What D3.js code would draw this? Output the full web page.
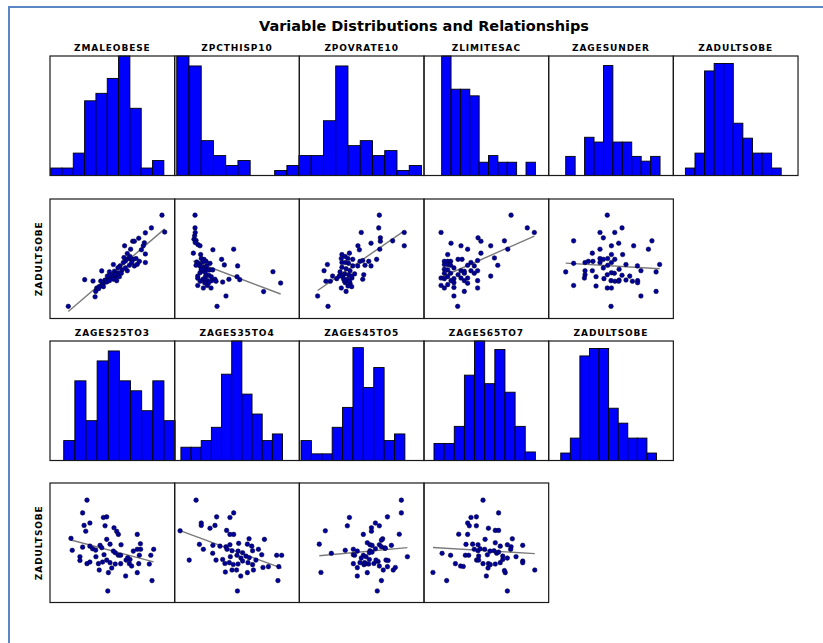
<!DOCTYPE html>
<html>
<head>
<meta charset="utf-8">
<script src="https://cdn.jsdelivr.net/npm/d3@7"></script>
<style>
    body { margin: 0; background: #fff; }
    #chart-area { width: 823px; height: 643px; }
    .main-title { font-family: "DejaVu Sans", sans-serif; font-weight: bold; font-size: 14.5px; }
    .panel-title { font-family: "DejaVu Sans", sans-serif; font-weight: bold; font-size: 9px; letter-spacing: 0.9px; }
</style>
</head>
<body>
<div id="chart-area"></div>
<script>

// variables shown as histograms (row 1 and row 3)
const histRowTop = ["ZMALEOBESE", "ZPCTHISP10", "ZPOVRATE10", "ZLIMITESAC", "ZAGESUNDER", "ZADULTSOBE"];
const histRowBottom = ["ZAGES25TO3", "ZAGES35TO4", "ZAGES45TO5", "ZAGES65TO7", "ZADULTSOBE"];

// counts per bin
const histCounts = {
    ZMALEOBESE: [1, 1, 3, 10, 11, 13, 16, 9, 1, 2, 0],
    ZPCTHISP10: [24, 22, 7, 4, 2, 3, 0, 0, 1, 2],
    ZPOVRATE10: [4, 4, 11, 22, 6, 7, 4, 5, 1, 2],
    ZLIMITESAC: [18, 13, 13, 12, 2, 3, 2, 2, 0, 2],
    ZAGESUNDER: [4, 0, 8, 7, 23, 7, 7, 4, 3, 4],
    ZADULTSOBE: [1, 3, 14, 15, 15, 7, 5, 3, 3, 1],
    ZAGES25TO3: [2, 8, 4, 10, 11, 8, 7, 5, 8, 4],
    ZAGES35TO4: [2, 2, 3, 5, 13, 18, 10, 7, 3, 4],
    ZAGES45TO5: [3, 1, 1, 5, 8, 17, 11, 14, 3, 4],
    ZAGES65TO7: [2, 2, 4, 10, 14, 9, 13, 8, 4, 1]
};

// first bin edge (z units)
const binStart = {
    ZMALEOBESE: -2.97, ZPCTHISP10: -2.90, ZPOVRATE10: -3.02, ZLIMITESAC: -2.15, ZAGESUNDER: -2.18,
    ZADULTSOBE: -2.42, ZAGES25TO3: -2.34, ZAGES35TO4: -2.70, ZAGES45TO5: -2.92, ZAGES65TO7: -2.52
};

// bin width (z units)
const binStep = {
    ZMALEOBESE: 0.545, ZPCTHISP10: 0.589, ZPOVRATE10: 0.590, ZLIMITESAC: 0.451, ZAGESUNDER: 0.454,
    ZADULTSOBE: 0.461, ZAGES25TO3: 0.536, ZAGES35TO4: 0.489, ZAGES45TO5: 0.500, ZAGES65TO7: 0.488
};

// top of the count axis
const histMax = {
    ZMALEOBESE: 16, ZPCTHISP10: 24, ZPOVRATE10: 24, ZLIMITESAC: 18, ZAGESUNDER: 25,
    ZADULTSOBE: 16, ZAGES25TO3: 12, ZAGES35TO4: 18, ZAGES45TO5: 18, ZAGES65TO7: 14
};

// scatter rows: x variable vs ZADULTSOBE
const scatterRowTop = ["ZMALEOBESE", "ZPCTHISP10", "ZPOVRATE10", "ZLIMITESAC", "ZAGESUNDER"];
const scatterRowBottom = ["ZAGES25TO3", "ZAGES35TO4", "ZAGES45TO5", "ZAGES65TO7"];
const yVariable = "ZADULTSOBE";

const ptsMaleObese = [[-2.12,-2.39],[2.39,2.19],[2.52,1.34],[1.88,1.55],[1.59,1.30],[1.27,1.03],[0.98,0.88],[1.06,0.88],[0.59,0.65],[1.54,0.80],[1.49,0.65],[0.88,0.48],[1.59,0.24],[0.72,0.26],[1.40,0.45],[0.77,0.01],[0.91,-0.03],[1.01,-0.03],[1.14,0.01],[1.30,-0.13],[1.59,-0.19],[0.63,-0.11],[0.53,-0.19],[0.05,-0.29],[0.37,-0.36],[0.82,-0.33],[1.06,-0.36],[0.47,-0.56],[0.72,-0.60],[-0.51,-0.61],[-0.14,-0.66],[0.10,-0.63],[0.29,-0.70],[0.21,-0.83],[0.34,-0.90],[0.14,-0.97],[-0.05,-0.90],[-0.19,-1.03],[-0.35,-1.07],[-0.56,-1.12],[-1.33,-1.05],[-0.93,-1.12],[0.05,-1.03],[0.21,-1.10],[-0.43,-1.23],[-0.51,-1.34],[-0.63,-1.40],[-0.75,-1.47],[-0.80,-1.64],[-0.83,-1.91],[-0.24,-0.87],[-0.03,-0.80],[-0.27,-1.17],[0.43,-0.73],[0.63,-0.46],[0.93,-0.19],[1.20,-0.28],[-0.66,-1.50],[-0.43,-1.40],[0.27,-0.45],[-0.14,-1.10],[0.13,-0.78],[0.56,0.06],[0.85,0.11]];

const ptsPctHisp = [[-2.02,2.19],[-2.02,1.55],[-2.01,1.32],[-2.04,1.15],[-2.07,0.98],[-1.97,0.92],[-2.01,0.81],[-1.88,0.71],[-1.78,0.65],[-2.10,0.28],[-1.75,0.21],[-1.16,0.45],[-0.16,0.48],[-0.74,-0.03],[-1.72,0.01],[-1.59,-0.03],[-1.94,-0.16],[-1.85,-0.23],[-1.65,-0.16],[-1.49,-0.13],[-1.78,-0.36],[-1.62,-0.43],[-1.30,-0.23],[-1.97,-0.33],[-0.61,-0.31],[0.03,-0.36],[-1.49,-0.53],[-1.33,-0.56],[-1.17,-0.56],[-1.69,-0.63],[-1.52,-0.70],[-1.78,-0.70],[-1.89,-0.87],[-1.89,-0.98],[-1.52,-0.90],[-1.36,-0.83],[-1.24,-0.90],[-1.64,-1.03],[-1.43,-1.10],[-1.22,-1.10],[-1.06,-1.03],[-0.69,-1.17],[-0.39,-1.03],[0.00,-0.90],[0.13,-1.05],[-1.89,-1.34],[-1.43,-1.34],[-1.62,-1.47],[-1.25,-1.47],[-0.53,-1.87],[-0.96,-2.39],[1.28,-1.65],[1.73,-0.65],[2.10,-1.22],[-1.72,-0.53],[-1.46,-0.36],[-1.01,-1.13],[-1.56,-1.20],[-1.77,-1.13],[-1.36,-1.20]];

const ptsPovRate = [[0.85,2.19],[0.82,1.55],[-0.02,1.32],[2.05,1.32],[0.90,1.05],[0.90,0.88],[0.45,0.78],[1.49,0.90],[2.05,0.65],[-0.18,0.65],[-0.11,0.45],[0.87,0.48],[-0.95,0.21],[-0.59,0.28],[-0.79,0.11],[-0.98,0.01],[-0.66,0.01],[-0.43,-0.03],[-0.08,-0.13],[0.05,-0.09],[0.34,-0.13],[0.72,-0.03],[-1.65,-0.29],[-0.95,-0.19],[-0.79,-0.19],[-0.63,-0.23],[-0.19,-0.36],[0.16,-0.33],[0.45,-0.36],[-1.81,-0.60],[-0.95,-0.43],[-0.75,-0.50],[-0.56,-0.60],[-1.04,-0.66],[-0.82,-0.76],[-0.91,-0.87],[-0.63,-0.80],[-0.34,-0.76],[0.10,-0.80],[-1.20,-1.00],[-0.88,-1.00],[-0.69,-1.03],[-0.47,-0.97],[-1.72,-1.13],[-1.51,-1.13],[-1.40,-0.87],[0.05,-1.03],[-0.79,-1.20],[-0.56,-1.23],[-0.98,-1.47],[-0.75,-1.64],[-0.66,-1.37],[-0.48,-1.40],[-2.12,-1.87],[-1.62,-2.39],[-0.43,-0.36],[-1.08,-0.87],[-0.83,-1.12],[-0.59,-1.13],[-0.50,-0.87]];

const ptsLimitEsac = [[1.19,2.19],[-2.18,1.32],[1.97,1.55],[2.31,1.32],[-0.40,1.05],[-0.26,0.88],[0.87,0.90],[-1.70,0.78],[-1.22,0.65],[-0.90,0.48],[0.21,0.65],[1.03,0.48],[-1.86,0.21],[-0.26,0.28],[-1.36,-0.03],[-1.17,-0.03],[-2.02,-0.13],[-1.86,-0.13],[-1.72,-0.13],[-0.74,-0.19],[-0.42,-0.09],[0.39,0.04],[-2.02,-0.29],[-1.86,-0.29],[-1.72,-0.33],[-0.90,-0.33],[-0.58,-0.36],[0.55,-0.33],[-2.02,-0.53],[-1.86,-0.56],[-1.56,-0.46],[-1.22,-0.60],[-1.06,-0.63],[-0.74,-0.60],[-0.42,-0.60],[-2.02,-0.73],[-1.72,-0.73],[-1.36,-0.80],[-1.06,-0.73],[-0.58,-0.73],[0.21,-0.87],[-2.18,-0.97],[-2.02,-1.00],[-1.86,-0.90],[-1.56,-1.00],[-1.22,-0.97],[-1.06,-1.10],[-0.90,-0.97],[-0.42,-1.10],[-2.18,-1.34],[-1.86,-1.30],[-1.56,-1.20],[-1.56,-1.44],[-2.02,-1.47],[-1.06,-1.64],[-0.42,-1.47],[-1.56,-1.87],[-1.38,-2.39],[-0.90,-1.23],[-1.70,-1.10]];

const ptsAgesUnder = [[-0.18,2.19],[0.53,1.55],[-0.53,1.32],[0.18,1.32],[-1.80,0.90],[-0.37,1.05],[0.02,0.65],[0.37,0.78],[1.09,0.65],[1.97,0.90],[1.80,0.48],[-0.53,0.48],[-0.90,0.28],[0.02,0.21],[0.56,0.21],[-0.53,0.01],[-0.37,-0.03],[-0.16,0.01],[0.18,-0.03],[-1.09,-0.13],[-1.25,-0.19],[-0.53,-0.19],[-1.80,-0.23],[0.02,-0.19],[2.34,-0.29],[0.72,-0.29],[1.27,-0.36],[-0.16,-0.33],[-0.37,-0.46],[-2.18,-0.66],[-1.25,-0.60],[-0.90,-0.60],[0.02,-0.70],[1.44,-0.60],[2.17,-0.66],[-1.25,-0.80],[-0.72,-0.90],[-0.18,-0.80],[0.16,-0.73],[0.53,-0.83],[0.90,-0.87],[-1.28,-0.97],[-0.34,-1.00],[0.00,-1.10],[0.19,-1.13],[0.39,-1.07],[0.72,-1.07],[1.28,-1.10],[1.28,-1.20],[-1.80,-1.34],[-0.72,-1.37],[-0.18,-1.47],[0.02,-1.47],[2.17,-1.64],[1.44,-1.87],[0.00,-2.39],[0.37,-1.13],[-0.87,-0.13],[0.39,-0.53],[1.03,-1.13]];

const ptsAges25 = [[-1.22,2.14],[-1.43,1.50],[-1.36,0.87],[-1.08,0.99],[-1.28,0.58],[-0.43,1.27],[-0.27,1.30],[-0.35,0.85],[0.08,0.75],[0.21,0.57],[0.29,0.42],[1.20,0.42],[-1.99,0.22],[-0.27,0.17],[-0.11,-0.07],[0.42,-0.10],[1.35,-0.05],[-1.43,-0.22],[-1.08,-0.17],[-0.95,-0.30],[-0.80,-0.37],[-0.59,-0.13],[-0.51,-0.25],[-0.40,-0.60],[0.05,-0.42],[0.14,-0.50],[0.29,-0.63],[0.40,-0.63],[1.01,-0.42],[1.20,-0.33],[1.36,-0.33],[-1.93,-0.38],[-1.56,-0.70],[-1.56,-0.89],[-1.22,-1.05],[-0.79,-0.70],[-0.67,-1.05],[-0.47,-0.97],[-0.27,-0.87],[-0.11,-1.00],[0.14,-1.07],[0.40,-1.05],[0.66,-0.87],[0.82,-1.05],[0.93,-1.17],[0.85,-0.84],[1.30,-0.63],[1.27,-1.05],[1.85,-0.63],[1.99,-0.33],[1.78,-1.07],[-0.63,-1.37],[-0.19,-1.50],[-0.03,-1.27],[1.20,-1.50],[0.64,-1.67],[1.91,-1.90],[-0.22,-2.42],[0.74,-0.75],[-1.08,-0.97]];

const ptsAges35 = [[-1.97,2.14],[-0.16,1.50],[-0.34,1.27],[-0.98,1.30],[-1.72,0.99],[-1.72,0.87],[-1.30,0.73],[-1.06,0.87],[-0.50,0.62],[-0.34,0.42],[-0.16,0.42],[-2.74,0.60],[0.58,0.20],[1.32,0.17],[-1.81,-0.08],[-1.16,-0.13],[-0.82,-0.17],[-0.53,-0.20],[-0.34,-0.10],[0.08,-0.03],[0.50,-0.07],[0.71,-0.17],[-1.17,-0.53],[-2.30,-0.87],[-0.48,-0.33],[-0.24,-0.40],[0.05,-0.42],[0.27,-0.50],[0.75,-0.40],[1.03,-0.33],[1.19,-0.60],[1.91,-0.63],[2.15,-0.63],[-0.32,-0.70],[0.00,-0.63],[0.19,-0.77],[0.43,-0.67],[-0.58,-1.04],[-0.37,-1.00],[-0.18,-1.09],[0.05,-1.07],[0.27,-0.92],[0.53,-1.00],[0.75,-1.10],[0.91,-0.87],[1.25,-1.24],[1.51,-1.20],[2.01,-1.20],[-0.24,-1.37],[-0.02,-1.37],[-0.56,-1.47],[0.50,-1.50],[0.18,-1.67],[0.79,-1.37],[1.97,-1.90],[0.02,-2.42],[-1.62,-0.33],[-1.01,-0.87],[-0.69,-0.84],[0.59,-0.75]];

const ptsAges45 = [[1.91,2.14],[1.91,1.50],[-0.59,1.27],[1.24,1.30],[-0.69,0.85],[0.66,0.99],[0.85,0.85],[0.47,0.75],[0.47,0.58],[-1.75,0.60],[0.08,0.42],[1.81,0.43],[1.01,0.20],[0.95,0.13],[-2.04,-0.07],[0.27,0.00],[0.40,-0.10],[0.50,-0.13],[0.85,-0.10],[0.95,-0.20],[1.11,-0.27],[1.43,-0.13],[-1.46,-0.53],[-0.79,-0.38],[-0.40,-0.33],[-0.21,-0.42],[0.40,-0.40],[0.50,-0.47],[0.66,-0.30],[1.14,-0.27],[-0.40,-0.60],[-0.34,-0.63],[0.08,-0.63],[0.21,-0.70],[0.37,-0.84],[2.20,-0.70],[0.79,-0.94],[1.17,-0.87],[1.27,-0.89],[-0.40,-1.05],[-0.21,-1.25],[0.11,-1.10],[0.21,-1.05],[0.34,-1.07],[0.59,-1.04],[0.69,-0.87],[1.04,-1.37],[1.24,-1.20],[1.52,-1.37],[1.62,-1.24],[-1.96,-1.49],[-0.21,-1.67],[0.27,-1.50],[0.95,-1.90],[0.75,-2.42],[-0.02,-0.77],[0.37,-0.50],[0.85,-1.17],[0.14,-1.00],[-0.08,-1.00]];

const ptsAges65 = [[-0.16,2.14],[0.59,1.50],[-0.74,1.27],[-0.48,1.30],[-0.90,0.99],[-0.82,0.85],[-0.48,0.85],[0.10,0.73],[0.43,0.62],[0.59,0.62],[-1.33,0.43],[-0.90,0.42],[-0.06,0.17],[1.25,0.20],[-0.98,-0.08],[-0.66,-0.07],[-0.40,-0.10],[0.43,0.00],[0.67,-0.17],[1.01,-0.10],[1.19,-0.20],[1.75,-0.13],[-2.13,-0.53],[-1.72,-0.63],[-0.58,-0.33],[-0.40,-0.40],[-0.30,-0.30],[-0.08,-0.33],[0.18,-0.42],[0.37,-0.40],[0.50,-0.53],[1.17,-0.33],[-1.01,-0.63],[-0.85,-0.63],[-0.37,-0.67],[0.05,-0.60],[0.79,-0.67],[1.01,-0.77],[1.43,-0.70],[1.75,-0.92],[1.75,-1.00],[-1.49,-1.05],[-1.24,-1.17],[-1.11,-1.19],[-0.47,-0.87],[-0.16,-1.05],[0.10,-1.05],[0.19,-1.10],[0.43,-1.07],[0.67,-1.00],[0.79,-0.84],[0.91,-1.50],[0.87,-1.40],[0.08,-1.27],[-2.57,-1.49],[-1.91,-1.90],[0.00,-1.67],[2.33,-1.37],[1.01,-2.42],[-0.37,-0.87],[0.59,-0.47]];

const scatterPoints = {
    ZMALEOBESE: ptsMaleObese, ZPCTHISP10: ptsPctHisp, ZPOVRATE10: ptsPovRate,
    ZLIMITESAC: ptsLimitEsac, ZAGESUNDER: ptsAgesUnder, ZAGES25TO3: ptsAges25,
    ZAGES35TO4: ptsAges35, ZAGES45TO5: ptsAges45, ZAGES65TO7: ptsAges65
};

class PairGrid {

    constructor(parentElement) {
        this.parentElement = parentElement;
        this.initVis();
    }

    initVis() {
        let vis = this;

        vis.width = 823;
        vis.height = 643;

        // grid geometry
        vis.left = 50;
        vis.cellW = 124.67;
        vis.cellH = 119.5;
        vis.rowTops = [56, 199, 341, 483];

        vis.svg = d3.select("#" + vis.parentElement).append("svg")
            .attr("width", vis.width)
            .attr("height", vis.height);

        // page frame
        vis.svg.append("rect")
            .attr("x", 9).attr("y", 7)
            .attr("width", 900).attr("height", 800)
            .attr("fill", "#fff")
            .attr("stroke", "#5b86c4")
            .attr("stroke-width", 2);

        vis.svg.append("text")
            .attr("class", "main-title")
            .attr("x", vis.left + vis.cellW * 3)
            .attr("y", 31)
            .attr("text-anchor", "middle")
            .text("Variable Distributions and Relationships");

        // z-score scale shared by every panel
        vis.zDomain = [-3, 3];

        histRowTop.forEach((v, i) => vis.drawHist(v, i, vis.rowTops[0]));
        scatterRowTop.forEach((v, i) => vis.drawScatter(v, i, vis.rowTops[1]));
        histRowBottom.forEach((v, i) => vis.drawHist(v, i, vis.rowTops[2]));
        scatterRowBottom.forEach((v, i) => vis.drawScatter(v, i, vis.rowTops[3]));

        vis.yLabel(vis.rowTops[1]);
        vis.yLabel(vis.rowTops[3]);
    }

    panelScales(col, top) {
        let vis = this;
        let x0 = vis.left + col * vis.cellW;
        return {
            x0: x0,
            x: d3.scaleLinear().domain(vis.zDomain).range([x0, x0 + vis.cellW]),
            y: d3.scaleLinear().domain(vis.zDomain).range([top + vis.cellH, top])
        };
    }

    frame(col, top) {
        let vis = this;
        vis.svg.append("rect")
            .attr("x", vis.left + col * vis.cellW)
            .attr("y", top)
            .attr("width", vis.cellW)
            .attr("height", vis.cellH)
            .attr("fill", "none")
            .attr("stroke", "#1a1a1a")
            .attr("stroke-width", 1.2);
    }

    drawHist(name, col, top) {
        let vis = this;
        let s = vis.panelScales(col, top);
        let y = d3.scaleLinear().domain([0, histMax[name]]).range([top + vis.cellH, top]);

        let bins = histCounts[name].map((c, i) => ({
            x0: binStart[name] + i * binStep[name],
            x1: binStart[name] + (i + 1) * binStep[name],
            count: c
        })).filter(d => d.count > 0);

        vis.svg.append("g")
            .selectAll("rect")
            .data(bins)
            .join("rect")
            .attr("x", d => s.x(d.x0))
            .attr("width", d => s.x(d.x1) - s.x(d.x0))
            .attr("y", d => y(d.count))
            .attr("height", d => y(0) - y(d.count))
            .attr("fill", "#0000ff")
            .attr("stroke", "#000")
            .attr("stroke-width", 0.9);

        vis.frame(col, top);

        vis.svg.append("text")
            .attr("class", "panel-title")
            .attr("x", s.x0 + vis.cellW / 2)
            .attr("y", top - 5)
            .attr("text-anchor", "middle")
            .text(name);
    }

    drawScatter(name, col, top) {
        let vis = this;
        let s = vis.panelScales(col, top);
        let pts = scatterPoints[name];

        // least squares fit
        let mx = d3.mean(pts, d => d[0]);
        let my = d3.mean(pts, d => d[1]);
        let slope = d3.sum(pts, d => (d[0] - mx) * (d[1] - my)) / d3.sum(pts, d => (d[0] - mx) ** 2);
        let ext = d3.extent(pts, d => d[0]);
        let fit = ext.map(xv => [xv, my + slope * (xv - mx)]);

        vis.svg.append("path")
            .datum(fit)
            .attr("d", d3.line().x(d => s.x(d[0])).y(d => s.y(d[1])))
            .attr("fill", "none")
            .attr("stroke", "#7a7a7a")
            .attr("stroke-width", 1.4);

        vis.svg.append("g")
            .selectAll("circle")
            .data(pts)
            .join("circle")
            .attr("cx", d => s.x(d[0]))
            .attr("cy", d => s.y(d[1]))
            .attr("r", 2.3)
            .attr("fill", "#00009a")
            .attr("stroke", "#000033")
            .attr("stroke-width", 0.5);

        vis.frame(col, top);
    }

    yLabel(top) {
        let vis = this;
        let cy = top + vis.cellH / 2;
        vis.svg.append("text")
            .attr("class", "panel-title")
            .attr("transform", `translate(42, ${cy}) rotate(-90)`)
            .attr("text-anchor", "middle")
            .text(yVariable);
    }
}

new PairGrid("chart-area");

</script>
</body>
</html>
